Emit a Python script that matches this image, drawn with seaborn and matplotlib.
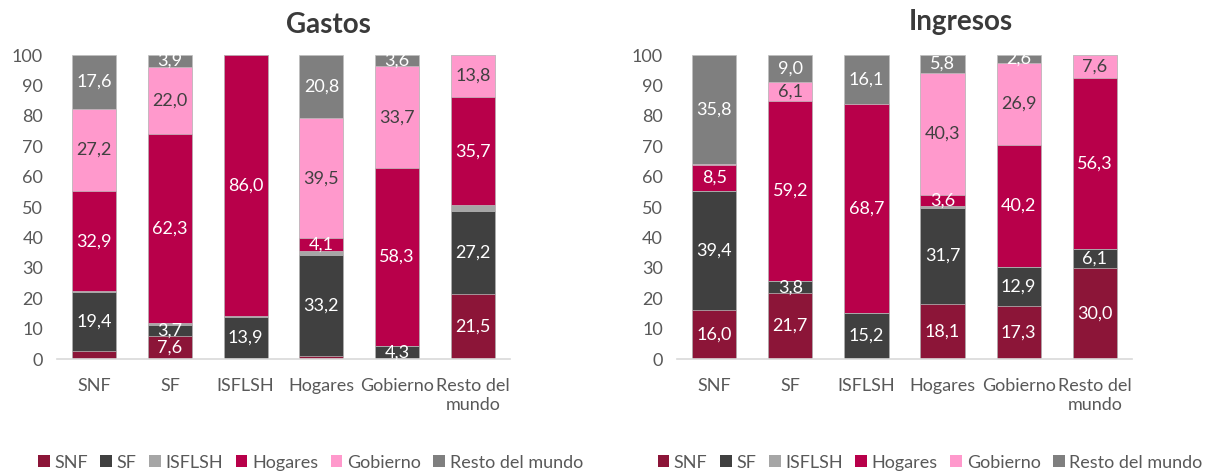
import numpy as np
import pandas as pd
import matplotlib
matplotlib.use("Agg")
import matplotlib.pyplot as plt
import seaborn as sns
from matplotlib.patches import Patch

categories = ["SNF", "SF", "ISFLSH", "Hogares", "Gobierno", "Resto del\nmundo"]
series_names = ["SNF", "SF", "ISFLSH", "Hogares", "Gobierno", "Resto del mundo"]

gastos_snf = [2.5, 7.6, 0.0, 0.9, 0.1, 21.5]
gastos_sf = [19.4, 3.7, 13.9, 33.2, 4.3, 27.2]
gastos_isflsh = [0.4, 0.5, 0.1, 1.5, 0.0, 1.8]
gastos_hogares = [32.9, 62.3, 86.0, 4.1, 58.3, 35.7]
gastos_gobierno = [27.2, 22.0, 0.0, 39.5, 33.7, 13.8]
gastos_resto = [17.6, 3.9, 0.0, 20.8, 3.6, 0.0]

ingresos_snf = [16.0, 21.7, 0.0, 18.1, 17.3, 30.0]
ingresos_sf = [39.4, 3.8, 15.2, 31.7, 12.9, 6.1]
ingresos_isflsh = [0.0, 0.2, 0.0, 0.5, 0.1, 0.0]
ingresos_hogares = [8.5, 59.2, 68.7, 3.6, 40.2, 56.3]
ingresos_gobierno = [0.3, 6.1, 0.0, 40.3, 26.9, 7.6]
ingresos_resto = [35.8, 9.0, 16.1, 5.8, 2.6, 0.0]

colors = ["#8C1538", "#404040", "#A6A6A6", "#B8004A", "#FF99CC", "#7F7F7F"]
label_colors = ["white", "white", "white", "white", "#404040", "white"]
yticks = [0, 10, 20, 30, 40, 50, 60, 70, 80, 90, 100]

plt.rcParams["font.family"] = ["Lato", "DejaVu Sans"]

fig = plt.figure(figsize=(12.08, 4.73), dpi=100)
ax1 = fig.add_axes([0.0472, 0.241, 0.375, 0.6427])
ax2 = fig.add_axes([0.5604, 0.241, 0.3767, 0.6427])

def draw(ax, series):
    arr = np.array(series, dtype=float)
    cum = np.cumsum(arr, axis=0)
    bottoms = cum - arr
    # draw cumulative totals from top series down
    for i in range(len(series) - 1, -1, -1):
        df = pd.DataFrame({"cat": categories, "val": cum[i]})
        sns.barplot(data=df, x="cat", y="val", ax=ax, color=colors[i],
                    width=0.58, saturation=1, edgecolor="#BFBFBF",
                    linewidth=0.5, order=categories)
    for i in range(len(series)):
        for j in range(len(categories)):
            v = arr[i, j]
            if v >= 2.55:
                ax.text(j, bottoms[i, j] + v / 2, f"{v:.1f}".replace(".", ","),
                        ha="center", va="center", fontsize=13,
                        color=label_colors[i])
    ax.set_ylim(0, 100)
    ax.set_xlim(-0.49, 5.49)
    ax.set_yticks(yticks)
    ax.set_xlabel("")
    ax.set_ylabel("")
    for s in ["top", "right", "left"]:
        ax.spines[s].set_visible(False)
    ax.spines["bottom"].set_color("#D9D9D9")
    ax.spines["bottom"].set_linewidth(1.2)
    ax.tick_params(axis="both", length=0, labelsize=13, colors="#595959")
    ax.tick_params(axis="x", pad=14)
    ax.tick_params(axis="y", pad=10)
    ax.set_facecolor("white")

draw(ax1, [gastos_snf, gastos_sf, gastos_isflsh, gastos_hogares, gastos_gobierno, gastos_resto])
draw(ax2, [ingresos_snf, ingresos_sf, ingresos_isflsh, ingresos_hogares, ingresos_gobierno, ingresos_resto])

fig.text(0.2715, 0.930, "Gastos", ha="center", va="baseline", fontsize=20,
         fontweight="bold", color="#3A3A3A")
fig.text(0.7955, 0.9366, "Ingresos", ha="center", va="baseline", fontsize=20,
         fontweight="bold", color="#3A3A3A")

handles = [Patch(facecolor=c, edgecolor="none") for c in colors]
for xc in (0.257, 0.77):
    fig.legend(handles, series_names, loc="center", bbox_to_anchor=(xc, 0.022),
               ncol=6, frameon=False, fontsize=13, handlelength=0.65,
               handleheight=0.65, handletextpad=0.25, columnspacing=0.7,
               labelcolor="#595959")

fig.savefig("out.png", dpi=100, facecolor="white")
